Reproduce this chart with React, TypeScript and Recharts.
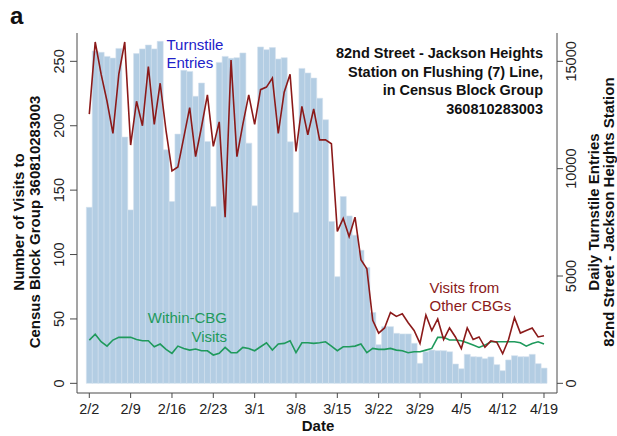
import React from 'react';
import { ComposedChart, Bar, Line, XAxis, YAxis } from 'recharts';

// one entry per day, 2/2 .. 4/19 (2020)
const dates = [
  '2/2', '2/3', '2/4', '2/5', '2/6', '2/7', '2/8', '2/9', '2/10', '2/11', '2/12', '2/13', '2/14', '2/15',
  '2/16', '2/17', '2/18', '2/19', '2/20', '2/21', '2/22', '2/23', '2/24', '2/25', '2/26', '2/27', '2/28', '2/29',
  '3/1', '3/2', '3/3', '3/4', '3/5', '3/6', '3/7', '3/8', '3/9', '3/10', '3/11', '3/12', '3/13', '3/14',
  '3/15', '3/16', '3/17', '3/18', '3/19', '3/20', '3/21', '3/22', '3/23', '3/24', '3/25', '3/26', '3/27', '3/28',
  '3/29', '3/30', '3/31', '4/1', '4/2', '4/3', '4/4', '4/5', '4/6', '4/7', '4/8', '4/9', '4/10', '4/11',
  '4/12', '4/13', '4/14', '4/15', '4/16', '4/17', '4/18', '4/19',
];

// daily turnstile entries (right axis)
const turnstileEntries = [
  8200, 15480, 15420, 15230, 15150, 15600, 11470, 8080, 15360, 15580, 15760, 15580, 15930, 10880,
  8470, 11610, 14580, 14530, 13370, 13990, 11270, 8240, 14950, 15230, 15140, 15170, 15390, 11190,
  8270, 15670, 15545, 15640, 15110, 15170, 11250, 7960, 14670, 14460, 14220, 13280, 12280, 7540,
  4970, 8700, 7800, 6900, 6200, 5400, 3300, 1800, 2640, 2640, 2330, 2300, 2300, 1865,
  930, 1470, 1550, 1520, 1520, 1470, 900, 680, 1350, 1240, 1230, 1150, 1230, 870,
  590, 1090, 1290, 1240, 1240, 1350, 915, 710,
];

// visits from other CBGs (left axis)
const otherCbgVisits = [
  209, 265, 240, 219, 194, 240, 265, 185, 219, 200, 246, 201, 233, 196,
  165, 168, 191, 214, 176, 199, 224, 184, 203, 129, 251, 176, 201, 224,
  201, 228, 230, 237, 194, 226, 240, 180, 215, 193, 213, 189, 189, 186,
  118, 128, 114, 129, 96, 89, 49, 39, 43, 55, 52, 54, 47, 41,
  31, 53, 41, 50, 34, 43, 36, 27, 43, 34, 36, 28, 33, 32,
  23, 34, 51, 39, 41, 43, 36, 37,
];

// within-CBG visits (left axis)
const withinCbgVisits = [
  33.6, 38.2, 32.3, 28.9, 33.6, 35.7, 35.7, 35.7, 34.1, 33.1, 33.1, 28.4, 30.5, 26.4,
  23.3, 28.9, 27.1, 25.8, 26.6, 25.3, 25.3, 22, 23.3, 27.9, 23.8, 23.8, 27.9, 27.1,
  25.3, 28.4, 31.5, 25.8, 30.5, 31, 33.1, 23.8, 31.5, 31.5, 31, 31.5, 32.3, 28.9,
  25.3, 28.4, 28.4, 28.9, 30.5, 23.8, 27.1, 26.4, 26.4, 27.1, 25.8, 25.3, 23.8, 24.5,
  24.5, 25.8, 27.1, 35.7, 35.7, 33.6, 33.6, 33.1, 31.5, 29.7, 27.9, 29.7, 32.3, 32.3,
  32.3, 32.3, 32.3, 31.5, 28.9, 31, 32.3, 30.5,
];

const visitTicks = [0, 50, 100, 150, 200, 250];
const entryTicks = [0, 5000, 10000, 15000];

const data = dates.map((date, i) => ({
  date,
  turnstile: turnstileEntries[i],
  other: otherCbgVisits[i],
  within: withinCbgVisits[i],
}));

const FONT = '"Liberation Sans", Arial, Helvetica, sans-serif';
const AXIS = '#4a4a4a';
const RED = '#8b1a1a';
const GREEN = '#1f9a5c';
const BLUE = '#2121c9';

const LeftTick = (props: any) => {
  const { y, payload } = props;
  return (
    <text x={64} y={y} transform={`rotate(-90 64 ${y})`} textAnchor="middle"
      fontSize={14.5} fill="#222" fontFamily={FONT}>{payload.value}</text>
  );
};

const RightTick = (props: any) => {
  const { y, payload } = props;
  return (
    <text x={576} y={y} transform={`rotate(-90 576 ${y})`} textAnchor="middle"
      fontSize={14.5} fill="#222" fontFamily={FONT}>{payload.value}</text>
  );
};

const DateTick = (props: any) => {
  const { x, payload } = props;
  return (
    <text x={x} y={414} textAnchor="middle" fontSize={14.5} fill="#222" fontFamily={FONT}>
      {payload.value}
    </text>
  );
};

const VText = ({ x, y, children }: { x: number; y: number; children: React.ReactNode }) => (
  <text x={x} y={y} transform={`rotate(-90 ${x} ${y})`} textAnchor="middle"
    fontSize={15} fontWeight="bold" fill="#111">{children}</text>
);

export default function App() {
  return (
    <div style={{ position: 'absolute', left: 0, top: 0, width: 617, height: 436, background: '#fff', fontFamily: FONT }}>
      <ComposedChart width={617} height={436} data={data}
        margin={{ top: 33, right: 20, bottom: 13, left: 37 }} barCategoryGap={0}>
        <XAxis dataKey="date" interval={6} padding={{ left: 9.35, right: 10.05 }}
          tickSize={5} height={30} stroke={AXIS} tick={<DateTick />} />
        <YAxis yAxisId="left" orientation="left" width={40} domain={[-7.5, 272]} allowDataOverflow
          ticks={visitTicks} tickSize={7} stroke={AXIS} tick={<LeftTick />} />
        <YAxis yAxisId="right" orientation="right" width={40} domain={[-450, 16320]} allowDataOverflow
          ticks={entryTicks} tickSize={6} stroke={AXIS} tick={<RightTick />} />
        <Bar yAxisId="right" dataKey="turnstile" fill="#b3cde3" stroke="#d3e1ee" strokeWidth={0.6}
          isAnimationActive={false} />
        <Line yAxisId="left" type="linear" dataKey="within" stroke={GREEN} strokeWidth={1.6}
          dot={false} isAnimationActive={false} />
        <Line yAxisId="left" type="linear" dataKey="other" stroke={RED} strokeWidth={1.6}
          dot={false} isAnimationActive={false} />
      </ComposedChart>
      <svg width={617} height={436} style={{ position: 'absolute', left: 0, top: 0, pointerEvents: 'none' }}
        fontFamily={FONT}>
        <text x={10} y={24} fontSize={24} fontWeight="bold" fill="#111">a</text>
        <VText x={24} y={222}>Number of Visits to</VText>
        <VText x={40} y={222}>Census Block Group 360810283003</VText>
        <VText x={599} y={212}>Daily Turnstile Entries</VText>
        <VText x={614} y={212}>82nd Street - Jackson Heights Station</VText>
        <g fontSize={14.5} fontWeight="bold" fill="#111" textAnchor="end">
          <text x={543} y={58}>82nd Street - Jackson Heights</text>
          <text x={543} y={76.5}>Station on Flushing (7) Line,</text>
          <text x={543} y={95}>in Census Block Group</text>
          <text x={543} y={113.5}>360810283003</text>
        </g>
        <g fontSize={15} fill={BLUE}>
          <text x={166.5} y={50}>Turnstile</text>
          <text x={166.5} y={68}>Entries</text>
        </g>
        <g fontSize={15} fill={GREEN} textAnchor="end">
          <text x={227} y={323}>Within-CBG</text>
          <text x={227} y={341.5}>Visits</text>
        </g>
        <g fontSize={15} fill={RED}>
          <text x={429.5} y={293}>Visits from</text>
          <text x={429.5} y={311}>Other CBGs</text>
        </g>
        <text x={318} y={431} textAnchor="middle" fontSize={15} fontWeight="bold" fill="#111">Date</text>
      </svg>
    </div>
  );
}
